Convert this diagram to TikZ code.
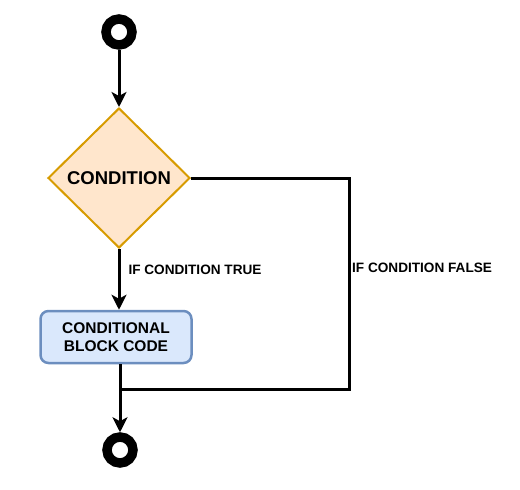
\documentclass[tikz,border=0pt]{standalone}
\usepackage{fontspec}
\setmainfont{Liberation Sans}
\usetikzlibrary{shapes.geometric,arrows.meta}
\definecolor{condfill}{HTML}{FFE6CC}
\definecolor{conddraw}{HTML}{D79B00}
\definecolor{blockfill}{HTML}{DAE8FC}
\definecolor{blockdraw}{HTML}{6C8EBF}
\tikzset{
	flow/.style={line width=3pt, -{Stealth[length=15pt,width=15pt,inset=4pt]}},
	joinline/.style={line width=3pt},
	endpoint/.style={circle, draw=black, fill=white, line width=9.5pt, minimum size=26pt, inner sep=0pt},
	condbox/.style={diamond, draw=conddraw, fill=condfill, line width=2pt, minimum width=142pt, minimum height=140pt, inner sep=0pt, font=\bfseries\fontsize{18.5}{20}\selectfont},
	blockbox/.style={draw=blockdraw, fill=blockfill, line width=2.5pt, rounded corners=8pt, minimum width=151pt, minimum height=52pt, align=center, font=\bfseries\fontsize{15.5}{17.7}\selectfont},
	lbl/.style={font=\bfseries\fontsize{13.6}{15}\selectfont, inner sep=0pt, anchor=west}
}
\begin{document}
\begin{tikzpicture}[x=1pt, y=-1pt]
	\useasboundingbox (0,0) rectangle (520,490);
	% nodos
	\node[endpoint] (start) at (119,32) {};
	\node[condbox] (cond) at (119,178) {CONDITION};
	\node[blockbox] (block) at (116,337) {CONDITIONAL\\BLOCK CODE};
	\node[endpoint] (stop) at (120,450) {};
	\coordinate (merge) at (119,389);
	\coordinate (turn) at (349,389);
	% flechas
	\draw[flow] (start) -- (cond.north);
	\draw[flow] (cond.south) -- (block.north -| cond.south) node[lbl, midway, xshift=8pt, yshift=9.5pt] (truelbl) {IF CONDITION TRUE};
	\draw[flow] (block.south -| stop) -- (stop.north);
	\draw[joinline] (cond.east) -| (turn) -- (merge);
	\node[lbl] (falselbl) at (352,268) {IF CONDITION FALSE};
\end{tikzpicture}
\end{document}
